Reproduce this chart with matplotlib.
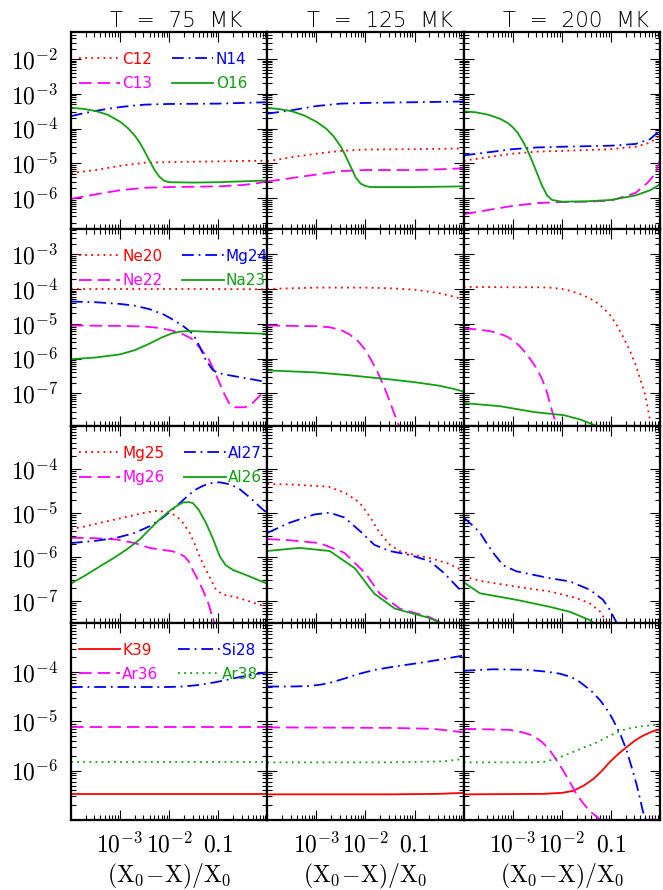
import numpy as np
import matplotlib
matplotlib.use('Agg')
import matplotlib.pyplot as plt
from matplotlib.ticker import LogLocator, NullFormatter

plt.rcParams['mathtext.fontset'] = 'cm'
plt.rcParams['font.family'] = ['DejaVu Sans']

temps = [75, 125, 200]
titles = ['T  =  75  MK', 'T  =  125  MK', 'T  =  200  MK']

# each species: temperature -> (log10 (X0-X)/X0, log10 abundance)
# row 1
C12 = {75: ([-4, -3.5, -3, -2.5, -2, -1, 0], [-5.28, -5.19, -5.07, -4.98, -4.96, -4.94, -4.92]),
       125: ([-4, -3.5, -3, -2.5, -2, -1, 0], [-4.94, -4.82, -4.72, -4.64, -4.6, -4.59, -4.57]),
       200: ([-4, -3.5, -3, -2.5, -2, -1, -0.5, -0.2, 0], [-4.92, -4.82, -4.72, -4.66, -4.64, -4.59, -4.52, -4.4, -4.19])}
C13 = {75: ([-4, -3.5, -3, -2.5, -2, -1, -0.5, -0.2, 0], [-6.02, -5.89, -5.77, -5.7, -5.68, -5.66, -5.62, -5.57, -5.51]),
       125: ([-4, -3.5, -3, -2.5, -2, -1, -0.5, 0], [-5.52, -5.42, -5.32, -5.22, -5.19, -5.19, -5.17, -5.14]),
       200: ([-4, -3.5, -3, -2.5, -2, -1.5, -1, -0.5, -0.25, -0.1, 0], [-6.46, -6.34, -6.22, -6.14, -6.11, -6.1, -6.07, -5.85, -5.55, -5.3, -4.89])}
N14 = {75: ([-4, -3.75, -3.5, -3.25, -3, -2.75, -2.5, -2, -1, 0], [-3.64, -3.56, -3.49, -3.43, -3.38, -3.34, -3.31, -3.29, -3.28, -3.24]),
       125: ([-4, -3.75, -3.5, -3.25, -3, -2.5, -2, -1, 0], [-3.57, -3.52, -3.47, -3.41, -3.35, -3.28, -3.26, -3.24, -3.22]),
       200: ([-4, -3.5, -3, -2.5, -2, -1, -0.5, -0.2, 0], [-4.77, -4.68, -4.59, -4.54, -4.52, -4.49, -4.44, -4.3, -4.05])}
O16 = {75: ([-4, -3.75, -3.5, -3.25, -3.0, -2.85, -2.7, -2.6, -2.5, -2.4, -2.3, -2.2, -2.1, -2.0, -1.5, -1, 0],
            [-3.4, -3.43, -3.49, -3.6, -3.8, -3.97, -4.2, -4.4, -4.65, -4.92, -5.18, -5.38, -5.5, -5.54, -5.55, -5.54, -5.49]),
       125: ([-4, -3.75, -3.5, -3.25, -3.0, -2.8, -2.65, -2.5, -2.4, -2.3, -2.2, -2.1, -2.0, -1.9, -1, 0],
             [-3.4, -3.44, -3.5, -3.62, -3.8, -4.0, -4.22, -4.52, -4.8, -5.1, -5.4, -5.58, -5.65, -5.68, -5.68, -5.66]),
       200: ([-4, -3.75, -3.5, -3.25, -3.1, -3.0, -2.9, -2.8, -2.7, -2.6, -2.5, -2.4, -2.3, -2.2, -2, -1.5, -1, -0.5, -0.2, 0],
             [-3.5, -3.53, -3.6, -3.72, -3.84, -3.96, -4.12, -4.35, -4.62, -4.95, -5.3, -5.65, -5.92, -6.05, -6.1, -6.09, -6.05, -5.92, -5.77, -5.6])}

# row 2
Ne20 = {75: ([-4, -3, -2, -1, 0], [-4.0, -4.0, -4.0, -4.0, -4.01]),
        125: ([-4, -3, -2, -1.5, -1, -0.5, -0.2, 0], [-4.0, -3.96, -3.96, -3.98, -4.02, -4.12, -4.22, -4.3]),
        200: ([-4, -3, -2.5, -2.24, -2.0, -1.84, -1.6, -1.43, -1.3, -1.16, -1.0, -0.89, -0.75, -0.61, -0.5, -0.41, -0.3, -0.2],
              [-3.94, -3.95, -3.95, -3.96, -4.0, -4.05, -4.16, -4.27, -4.38, -4.54, -4.78, -5.02, -5.38, -5.79, -6.17, -6.56, -7.05, -7.8])}
Ne22 = {75: ([-4, -3, -2.5, -2.2, -1.96, -1.75, -1.55, -1.38, -1.2, -1.05, -0.9, -0.78, -0.65, -0.45, -0.3, -0.16, 0],
             [-5.05, -5.06, -5.08, -5.12, -5.19, -5.28, -5.42, -5.68, -6.0, -6.45, -6.95, -7.28, -7.4, -7.4, -7.28, -7.08, -6.9]),
        125: ([-4, -3, -2.73, -2.5, -2.33, -2.15, -2.02, -1.9, -1.75, -1.61, -1.5, -1.41, -1.3],
              [-5.05, -5.07, -5.1, -5.18, -5.3, -5.5, -5.72, -6.0, -6.4, -6.85, -7.25, -7.6, -8.0]),
        200: ([-4, -3.75, -3.47, -3.3, -3.13, -3.0, -2.86, -2.7, -2.52, -2.4, -2.31, -2.18, -2.11],
              [-5.13, -5.16, -5.21, -5.27, -5.36, -5.47, -5.64, -5.9, -6.27, -6.6, -6.94, -7.6, -7.9])}
Mg24 = {75: ([-4, -3.5, -3, -2.7, -2.4, -2.1, -1.9, -1.7, -1.51, -1.38, -1.25, -1.11, -1.0, -0.7, -0.3, 0],
             [-4.36, -4.38, -4.43, -4.48, -4.58, -4.74, -4.9, -5.08, -5.3, -5.65, -6.05, -6.33, -6.42, -6.5, -6.6, -6.68]),
        125: ([], []),
        200: ([], [])}
Na23 = {75: ([-4, -3.5, -3.0, -2.7, -2.4, -2.16, -1.95, -1.75, -1.54, -1, 0],
             [-6.02, -5.97, -5.88, -5.76, -5.57, -5.4, -5.28, -5.22, -5.21, -5.24, -5.29]),
        125: ([-4, -3, -2.33, -1.5, -1, -0.5, -0.18, 0], [-6.34, -6.4, -6.48, -6.6, -6.68, -6.78, -6.88, -6.95]),
        200: ([-4, -3.26, -2.56, -1.95, -1.61, -1.27], [-7.28, -7.37, -7.54, -7.63, -7.76, -7.95])}

# row 3
Mg25 = {75: ([-4, -3.7, -3.41, -3.0, -2.73, -2.45, -2.26, -2.06, -1.95, -1.85, -1.72, -1.58, -1.48, -1.38, -1.28, -1.18, -1.1, -1.04, -0.9, -0.6, -0.1, 0],
             [-5.36, -5.3, -5.22, -5.12, -5.05, -4.98, -4.95, -4.97, -5.01, -5.07, -5.22, -5.45, -5.7, -5.98, -6.22, -6.44, -6.62, -6.75, -6.85, -6.92, -7.1, -7.12]),
        125: ([-4, -3.5, -2.75, -2.4, -2.12, -1.9, -1.71, -1.5, -1.31, -1.0, -0.69, -0.3, 0],
              [-4.34, -4.35, -4.4, -4.55, -4.76, -5.1, -5.45, -5.72, -5.86, -5.95, -6.02, -6.15, -6.32]),
        200: ([-4, -3.61, -2.92, -2.24, -1.7, -1.43, -1.22, -1.09], [-6.44, -6.55, -6.67, -6.78, -6.93, -7.05, -7.24, -7.47])}
Mg26 = {75: ([-4, -3.5, -3.07, -2.7, -2.4, -2.1, -1.92, -1.8, -1.69, -1.6, -1.52, -1.42, -1.31, -1.2, -1.11, -1.04],
             [-5.56, -5.57, -5.6, -5.68, -5.79, -5.84, -5.87, -5.92, -5.98, -6.1, -6.29, -6.5, -6.75, -7.05, -7.4, -7.6]),
        125: ([-4, -3.5, -2.94, -2.43, -2.0, -1.71, -1.3, -0.7, -0.35], [-5.59, -5.62, -5.68, -5.9, -6.37, -6.83, -7.17, -7.36, -7.55]),
        200: ([], [])}
Al27 = {75: ([-4, -3.5, -3.07, -2.7, -2.4, -2.15, -1.92, -1.75, -1.58, -1.45, -1.31, -1.15, -0.97, -0.75, -0.57, -0.35, -0.1, 0],
             [-5.68, -5.63, -5.56, -5.45, -5.3, -5.12, -4.91, -4.74, -4.57, -4.46, -4.38, -4.32, -4.3, -4.35, -4.45, -4.65, -4.91, -5.0]),
        125: ([-4, -3.55, -3.04, -2.73, -2.43, -2.12, -1.82, -1.51, -1.1, -0.69, -0.39, 0],
              [-5.45, -5.22, -5.03, -4.99, -5.1, -5.4, -5.72, -5.86, -5.95, -6.09, -6.37, -6.83]),
        200: ([-4, -3.8, -3.67, -3.55, -3.4, -3.2, -2.93, -2.24, -1.84, -1.43, -1.16, -1.02, -0.88],
              [-5.1, -5.3, -5.44, -5.65, -5.9, -6.18, -6.32, -6.48, -6.55, -6.74, -6.97, -7.2, -7.5])}
Al26 = {75: ([-4, -3.7, -3.41, -3.1, -2.87, -2.6, -2.4, -2.2, -1.99, -1.85, -1.72, -1.6, -1.52, -1.4, -1.25, -1.1, -0.97, -0.85, -0.7, -0.4, -0.1, 0],
             [-6.6, -6.41, -6.21, -6.0, -5.83, -5.6, -5.37, -5.15, -4.95, -4.84, -4.76, -4.75, -4.77, -4.92, -5.22, -5.6, -5.98, -6.18, -6.29, -6.42, -6.56, -6.6]),
        125: ([-4, -3.35, -2.73, -2.22, -1.82, -1.4, -0.7, -0.35], [-5.86, -5.79, -5.86, -6.25, -6.83, -7.17, -7.38, -7.55]),
        200: ([-4, -3.67, -2.92, -2.24, -1.84, -1.43, -1.29], [-6.57, -6.82, -6.97, -7.13, -7.24, -7.43, -7.55])}

# row 4
K39 = {75: ([-4, -3, -2, -1, 0], [-6.48, -6.48, -6.48, -6.48, -6.48]),
       125: ([-4, -1.5, -0.5, 0], [-6.48, -6.48, -6.47, -6.45]),
       200: ([-4, -2.37, -2.0, -1.77, -1.55, -1.36, -1.2, -1.03, -0.85, -0.68, -0.5, -0.35, -0.15, 0],
             [-6.48, -6.47, -6.45, -6.41, -6.3, -6.17, -6.02, -5.83, -5.66, -5.52, -5.38, -5.29, -5.2, -5.16])}
Ar36 = {75: ([-4, -3, -2, -1, 0], [-5.12, -5.12, -5.12, -5.12, -5.12]),
        125: ([-4, -1.5, -0.62, 0], [-5.12, -5.13, -5.15, -5.22]),
        200: ([-4, -3.06, -2.8, -2.58, -2.4, -2.24, -2.1, -1.97, -1.83, -1.7, -1.55, -1.43, -1.22, -0.85, -0.48, 0],
              [-5.15, -5.17, -5.22, -5.29, -5.42, -5.59, -5.8, -6.0, -6.24, -6.48, -6.68, -6.82, -6.99, -7.1, -7.01, -6.98])}
Si28 = {75: ([-4, -3, -2, -1.72, -1.4, -1.04, -0.8, -0.57, -0.3, 0], [-4.3, -4.3, -4.3, -4.29, -4.26, -4.2, -4.15, -4.1, -4.05, -4.0]),
        125: ([-4, -3.5, -3.14, -2.9, -2.67, -2.4, -2.12, -1.8, -1.44, -1.1, -0.76, -0.4, 0],
              [-4.29, -4.29, -4.28, -4.25, -4.2, -4.12, -4.03, -3.95, -3.89, -3.84, -3.79, -3.73, -3.66]),
        200: ([-4, -3.4, -2.72, -2.3, -2.04, -1.8, -1.63, -1.4, -1.22, -1.05, -0.95, -0.8, -0.68, -0.58, -0.48, -0.4, -0.35, -0.28],
              [-3.97, -3.94, -3.95, -3.99, -4.03, -4.1, -4.2, -4.38, -4.57, -4.8, -4.98, -5.28, -5.59, -5.92, -6.27, -6.6, -6.82, -7.02])}
Ar38 = {75: ([-4, -3, -2, -1, 0], [-5.83, -5.83, -5.83, -5.83, -5.83]),
        125: ([-4, -1.5, -0.4, 0], [-5.83, -5.83, -5.81, -5.76]),
        200: ([-4, -2.6, -2.37, -2.2, -2.04, -1.87, -1.7, -1.53, -1.36, -1.2, -1.03, -0.85, -0.68, -0.4, 0],
              [-5.83, -5.83, -5.82, -5.78, -5.73, -5.66, -5.59, -5.52, -5.46, -5.38, -5.29, -5.21, -5.15, -5.1, -5.06])}

red, mag, blue, green = '#ff0000', '#ff00ff', '#0000ff', '#10a010'
dot = (0, (1, 2.4))
dash = (0, (7, 3.3))
dashdot = (0, (6.5, 2.7, 1, 2.7))

# legend order: column 1 top/bottom, column 2 top/bottom
rows = [
    [('C12', C12, red, dot), ('C13', C13, mag, dash), ('N14', N14, blue, dashdot), ('O16', O16, green, '-')],
    [('Ne20', Ne20, red, dot), ('Ne22', Ne22, mag, dash), ('Mg24', Mg24, blue, dashdot), ('Na23', Na23, green, '-')],
    [('Mg25', Mg25, red, dot), ('Mg26', Mg26, mag, dash), ('Al27', Al27, blue, dashdot), ('Al26', Al26, green, '-')],
    [('K39', K39, red, '-'), ('Ar36', Ar36, mag, dash), ('Si28', Si28, blue, dashdot), ('Ar38', Ar38, green, dot)],
]
ylims = [(1.3e-7, 6e-2), (1.15e-8, 5.3e-3), (3.2e-8, 9.5e-4), (1e-7, 1e-3)]
ylabeled = [[-2, -3, -4, -5, -6], [-3, -4, -5, -6, -7], [-4, -5, -6, -7], [-4, -5, -6]]

fig, axes = plt.subplots(4, 3, figsize=(6.63, 8.9), dpi=100)
fig.subplots_adjust(left=0.107, right=0.9955, top=0.964, bottom=0.0787, hspace=0, wspace=0)

for i, row in enumerate(rows):
    for j, T in enumerate(temps):
        ax = axes[i, j]
        for name, data, col, ls in row:
            lx, ly = data[T]
            ax.plot(10 ** np.array(lx, dtype=float), 10 ** np.array(ly, dtype=float),
                    color=col, ls=ls, lw=1.3, label=name)
        ax.set_xscale('log')
        ax.set_yscale('log')
        ax.set_xlim(1e-4, 1)
        ax.set_ylim(*ylims[i])
        for a in (ax.xaxis, ax.yaxis):
            a.set_minor_locator(LogLocator(base=10, subs=np.arange(2, 10), numticks=100))
            a.set_minor_formatter(NullFormatter())
        ax.set_xticks([1e-4, 1e-3, 1e-2, 1e-1, 1])
        if i == 3:
            ax.set_xticklabels(['', r'$10^{-3}$', r'$10^{-2}$', r'$0.1$', ''])
            ax.set_xlabel(r'$\mathrm{(X_0\!-\!X)/X_0}$', fontsize=17, labelpad=3)
        else:
            ax.set_xticklabels([])
        dec = [k for k in range(-9, 0) if ylims[i][0] <= 10.0 ** k <= ylims[i][1]]
        ax.set_yticks([10.0 ** k for k in dec])
        if j == 0:
            ax.set_yticklabels([r'$10^{%d}$' % k if k in ylabeled[i] else '' for k in dec])
        else:
            ax.set_yticklabels([])
        ax.set_ylim(*ylims[i])
        ax.tick_params(which='both', direction='in', top=True, right=True, width=0.8, labelsize=17)
        ax.tick_params(which='major', length=7, pad=9)
        ax.tick_params(which='minor', length=3.5)
        for s in ax.spines.values():
            s.set_linewidth(1.6)
        if i == 0:
            ax.text(0.2, 1.026, titles[j], transform=ax.transAxes, ha='left', va='baseline',
                    fontsize=15.5, fontweight='light')
        if j == 0:
            ax.legend(ncol=2, loc='upper left', bbox_to_anchor=(0.04, 0.9), frameon=False,
                      handlelength=2.7, handletextpad=0.15, columnspacing=1.3,
                      labelspacing=0.6, labelcolor='linecolor', borderaxespad=0, borderpad=0,
                      prop={'family': ['Liberation Sans Narrow', 'DejaVu Sans'], 'size': 11})

fig.savefig('out.png', dpi=100)
